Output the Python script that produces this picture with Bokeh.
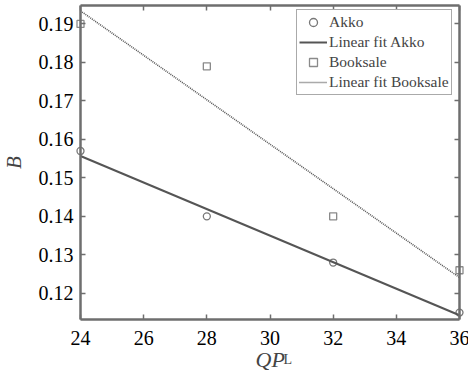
import numpy as np
from bokeh.plotting import figure
from bokeh.models import Range1d, LinearAxis, Legend, LegendItem, Label, FixedTicker
from bokeh.core.properties import value
from bokeh.embed import file_html
from bokeh.resources import INLINE

qp = [24, 28, 32, 36]
akko = [0.157, 0.140, 0.128, 0.115]
booksale = [0.190, 0.179, 0.140, 0.126]
x_ticks = [24, 26, 28, 30, 32, 34, 36]
y_ticks = [0.12, 0.13, 0.14, 0.15, 0.16, 0.17, 0.18, 0.19]
x_tick_labels = ["24", "26", "28", "30", "32", "34", "36"]
y_tick_labels = ["0.12", "0.13", "0.14", "0.15", "0.16", "0.17", "0.18", "0.19"]

FONT = "Liberation Serif"
AX = "#6e6e6e"
W, H = 468, 374
X0, X1, Y0, Y1 = 24.0, 36.0, 0.1132, 0.1948
FL, FR, FT, FB = 80, 459, 5, 319   # plot box in pixels
sx = (X1 - X0) / (FR - FL)
sy = (Y1 - Y0) / (FB - FT)

p = figure(width=W, height=H, output_backend="svg", toolbar_location=None,
           x_range=Range1d(X0 - FL * sx, X1 + (W - FR) * sx),
           y_range=Range1d(Y0 - (H - FB) * sy, Y1 + FT * sy),
           min_border=0, x_axis_location=None, y_axis_location=None)
p.xgrid.visible = False
p.ygrid.visible = False
p.outline_line_color = None
p.background_fill_color = "white"
p.border_fill_color = "white"

def make_axis(ticks, loc, bounds):
    ax = LinearAxis(ticker=FixedTicker(ticks=ticks), fixed_location=loc, bounds=bounds)
    ax.axis_line_color = AX
    ax.axis_line_width = 2.5
    ax.major_tick_line_color = AX
    ax.major_tick_line_width = 1.5
    ax.major_tick_in = 5
    ax.major_tick_out = 0
    ax.minor_tick_line_color = None
    ax.major_label_text_font_size = "0px"
    ax.major_label_text_color = None
    return ax

p.add_layout(make_axis(x_ticks, Y0, (X0, X1)), "below")
p.add_layout(make_axis(y_ticks, X0, (Y0, Y1)), "left")
p.add_layout(make_axis(x_ticks, Y1, (X0, X1)), "above")
p.add_layout(make_axis(y_ticks, X1, (Y0, Y1)), "right")

# tick labels
p.text(x=x_ticks, y=[Y0] * len(x_ticks), text=x_tick_labels, y_offset=18,
       text_font=value(FONT), text_font_size="20px", text_color="black",
       text_align="center", text_baseline="alphabetic")
p.text(x=[X0] * len(y_ticks), y=y_ticks, text=y_tick_labels, x_offset=-7,
       text_font=value(FONT), text_font_size="20px", text_color="black",
       text_align="right", text_baseline="middle")

xs = np.array([X0, X1])
ka = np.polyfit(qp, akko, 1)
kb = np.polyfit(qp, booksale, 1)

r1 = p.scatter(qp, akko, marker="circle", size=7, fill_color=None, line_color="#777777", line_width=1.3)
r2 = p.line(xs, np.polyval(ka, xs), line_color="#555555", line_width=2)
r3 = p.scatter(qp, booksale, marker="square", size=7, fill_color=None, line_color="#8a8a8a", line_width=1.3)
r4 = p.line(xs, np.polyval(kb, xs), line_color="#555555", line_width=1.6, line_dash="1 1")

legend = Legend(items=[LegendItem(label="Akko", renderers=[r1]),
                       LegendItem(label="Linear fit Akko", renderers=[r2]),
                       LegendItem(label="Booksale", renderers=[r3]),
                       LegendItem(label="Linear fit Booksale", renderers=[r4])],
                location=(296, H - 95), margin=0,
                label_text_font=FONT, label_text_font_size="15.5px",
                label_height=20, glyph_height=20, glyph_width=28,
                label_standoff=2, spacing=0, padding=2,
                border_line_color="#555555", border_line_width=1.5,
                background_fill_alpha=1)
p.add_layout(legend, "center")

p.add_layout(Label(x=255, y=H - 359, x_units="screen", y_units="screen", text="QP",
                   text_font=FONT, text_font_style="italic", text_font_size="22px",
                   text_baseline="alphabetic"))
p.add_layout(Label(x=283, y=H - 359, x_units="screen", y_units="screen", text="L",
                   text_font=FONT, text_font_size="14px", text_baseline="alphabetic"))
p.add_layout(Label(x=13, y=H - 162, x_units="screen", y_units="screen", text="B",
                   text_font=FONT, text_font_style="italic", text_font_size="21px",
                   angle=np.pi / 2, text_align="center", text_baseline="middle"))

open("out.html", "w").write(file_html(p, INLINE))
